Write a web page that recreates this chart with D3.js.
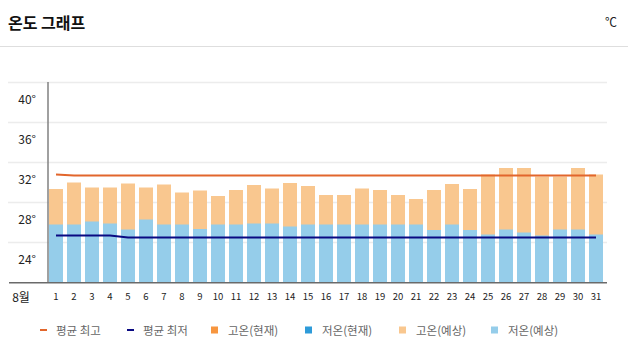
<!DOCTYPE html>
<html><head><meta charset="utf-8">
<script src="https://cdn.jsdelivr.net/npm/d3@7"></script>
<style>
html,body{margin:0;padding:0;background:#fff;}
svg{display:block;font-family:"Noto Sans CJK KR","Noto Sans",sans-serif;}
</style></head>
<body><svg id="c" width="628" height="355"></svg>
<script>
const title = "온도 그래프";
const unit = "℃";
const monthLabel = "8월";
const days = ["1","2","3","4","5","6","7","8","9","10","11","12","13","14","15","16","17","18","19","20","21","22","23","24","25","26","27","28","29","30","31"];
const highForecast = [29.35,30.0,29.5,29.5,29.9,29.5,29.8,29.0,29.2,28.65,29.25,29.75,29.4,29.95,29.65,28.75,28.75,29.4,29.25,28.75,28.35,29.25,29.85,29.35,30.8,31.45,31.45,30.6,30.6,31.45,30.8];
const lowForecast = [25.8,25.8,26.1,25.9,25.3,26.3,25.8,25.8,25.35,25.8,25.8,25.9,25.9,25.6,25.8,25.8,25.8,25.8,25.8,25.8,25.8,25.25,25.8,25.25,24.8,25.3,25.0,24.7,25.3,25.3,24.8];
const highCurrent = [];
const lowCurrent = [];
const meanHigh = [30.8,30.7,30.7,30.7,30.7,30.7,30.7,30.7,30.7,30.7,30.7,30.7,30.7,30.7,30.7,30.7,30.7,30.7,30.7,30.7,30.7,30.7,30.7,30.7,30.7,30.7,30.7,30.7,30.7,30.7,30.7];
const meanLow = [24.7,24.7,24.7,24.7,24.5,24.5,24.5,24.5,24.5,24.5,24.5,24.5,24.5,24.5,24.5,24.5,24.5,24.5,24.5,24.5,24.5,24.5,24.5,24.5,24.5,24.5,24.5,24.5,24.5,24.5,24.5];
const yTicks = [24,28,32,36,40];
const yTickLabels = ["24°","28°","32°","36°","40°"];
const legendLabels = ["평균 최고","평균 최저","고온(현재)","저온(현재)","고온(예상)","저온(예상)"];

const C = {meanHigh:"#e2662c", meanLow:"#0a0a82", highCur:"#f7963f", lowCur:"#2e9bd9", highFc:"#f9c78f", lowFc:"#95cdea"};

const svg = d3.select("#c");
// header
svg.append("text").attr("x",8).attr("y",22).attr("dominant-baseline","central")
  .attr("font-size",16).attr("font-weight",700).attr("fill","#111").text(title);
svg.append("text").attr("x",617).attr("y",21).attr("dominant-baseline","central").attr("text-anchor","end")
  .attr("font-size",12).attr("fill","#222").text(unit);
svg.append("line").attr("x1",0).attr("x2",628).attr("y1",46.5).attr("y2",46.5).attr("stroke","#dedede").attr("stroke-width",1);

const x = d3.scaleBand().domain(days).range([49,603]).paddingInner(4/18).paddingOuter(0);
const y = d3.scaleLinear().domain([20,40]).range([282.5,82.5]);

// gridlines
svg.append("g").selectAll("line").data(yTicks).join("line")
  .attr("x1",8).attr("x2",607).attr("y1",d=>y(d)).attr("y2",d=>y(d))
  .attr("stroke","#ececec").attr("stroke-width",1.5);
// y labels
svg.append("g").selectAll("text").data(yTicks).join("text")
  .attr("x",36).attr("y",d=>y(d)+16).attr("text-anchor","end").attr("dominant-baseline","central")
  .attr("font-size",12).attr("fill","#222").text((d,i)=>yTickLabels[i]);

// bars
svg.append("g").selectAll("rect").data(days).join("rect")
  .attr("x",d=>x(d)).attr("width",x.bandwidth())
  .attr("y",(d,i)=>y(highForecast[i])).attr("height",(d,i)=>y(20)-y(highForecast[i]))
  .attr("fill",C.highFc);
svg.append("g").selectAll("rect").data(days).join("rect")
  .attr("x",d=>x(d)).attr("width",x.bandwidth())
  .attr("y",(d,i)=>y(lowForecast[i])).attr("height",(d,i)=>y(20)-y(lowForecast[i]))
  .attr("fill",C.lowFc);

// axes lines
svg.append("line").attr("x1",48).attr("x2",48).attr("y1",82).attr("y2",283).attr("stroke","#808080").attr("stroke-width",1.5);
svg.append("line").attr("x1",9).attr("x2",607).attr("y1",282.8).attr("y2",282.8).attr("stroke","#6a6a6a").attr("stroke-width",1.5);

// mean lines
const line = arr => d3.line().x((d,i)=>x(days[i])+x.bandwidth()/2).y(d=>y(d))(arr);
svg.append("path").attr("d",line(meanHigh)).attr("fill","none").attr("stroke",C.meanHigh).attr("stroke-width",2);
svg.append("path").attr("d",line(meanLow)).attr("fill","none").attr("stroke",C.meanLow).attr("stroke-width",2);

// x labels
svg.append("g").selectAll("text").data(days).join("text")
  .attr("x",d=>x(d)+x.bandwidth()/2).attr("y",296).attr("text-anchor","middle").attr("dominant-baseline","central")
  .attr("font-size",9.5).attr("fill","#222").text(d=>d);
svg.append("text").attr("x",21).attr("y",296).attr("text-anchor","middle").attr("dominant-baseline","central")
  .attr("font-size",12).attr("fill","#222").text(monthLabel);

// legend
const legendX = [40,127,211,305,399,491];
const legendKinds = ["line","line","sq","sq","sq","sq"];
const legendColors = [C.meanHigh,C.meanLow,C.highCur,C.lowCur,C.highFc,C.lowFc];
const lg = svg.append("g").selectAll("g").data(legendLabels).join("g")
  .attr("transform",(d,i)=>`translate(${legendX[i]},330)`);
lg.append("rect").attr("x",0).attr("y",(d,i)=>legendKinds[i]==="line"?-1:-3.5)
  .attr("width",7).attr("height",(d,i)=>legendKinds[i]==="line"?2:7).attr("fill",(d,i)=>legendColors[i]);
lg.append("text").attr("x",(d,i)=>legendKinds[i]==="line"?16:17).attr("y",0).attr("dominant-baseline","central")
  .attr("font-size",11.5).attr("fill","#666").text(d=>d);
</script></body></html>
